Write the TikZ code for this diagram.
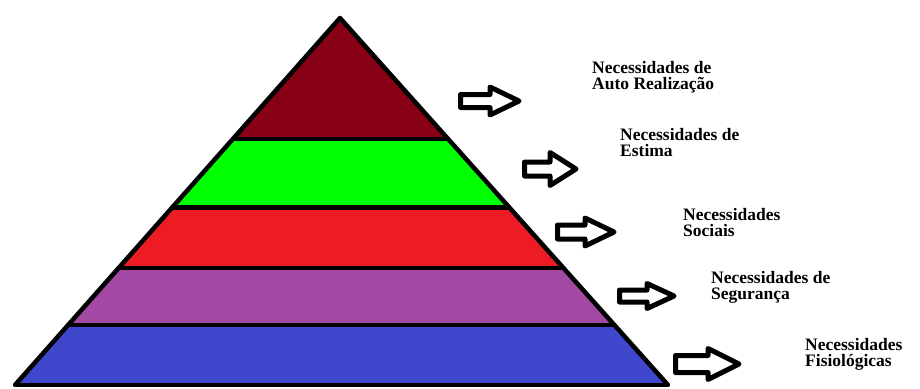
\documentclass[tikz,border=0pt]{standalone}
\usepackage{fontspec}
\setmainfont{Liberation Serif}
\usetikzlibrary{calc}
\definecolor{lvA}{RGB}{136,0,21}
\definecolor{lvB}{RGB}{0,255,0}
\definecolor{lvC}{RGB}{237,28,36}
\definecolor{lvD}{RGB}{163,73,164}
\definecolor{lvE}{RGB}{63,72,204}
\newcommand{\blockarr}[6]{% x0, xm, x1, cy, shaft half, head half
  \draw[arrowline] (#1,#4-#5) -- (#2,#4-#5) -- (#2,#4-#6) -- (#3,#4) -- (#2,#4+#6) -- (#2,#4+#5) -- (#1,#4+#5) -- cycle;}
\newcommand{\lblfont}{\fontsize{17.5}{16}\selectfont\bfseries\lineskiplimit=-30pt\relax\lineskip=0pt\relax}
\tikzset{
  bandline/.style={line width=4.2pt, line cap=round},
  edgeline/.style={line width=4.5pt, line join=round},
  arrowline/.style={line width=5pt, line join=round, fill=white},
  lbl/.style={anchor=base west, align=left, inner sep=0pt, font=\lblfont}
}
\begin{document}
\begin{tikzpicture}[x=1pt,y=-1pt]
\useasboundingbox (0,0) rectangle (920,388);
\coordinate (apex) at (340,18);
\coordinate (bl) at (15,385);
\coordinate (br) at (668,385);
\coordinate (l1) at ($(apex)!0.3288!(bl)$);
\coordinate (r1) at ($(apex)!0.3288!(br)$);
\coordinate (l2) at ($(apex)!0.5163!(bl)$);
\coordinate (r2) at ($(apex)!0.5163!(br)$);
\coordinate (l3) at ($(apex)!0.6821!(bl)$);
\coordinate (r3) at ($(apex)!0.6821!(br)$);
\coordinate (l4) at ($(apex)!0.8370!(bl)$);
\coordinate (r4) at ($(apex)!0.8370!(br)$);
% bands
\fill[lvA] (apex) -- (r1) -- (l1) -- cycle;
\fill[lvB] (l1) -- (r1) -- (r2) -- (l2) -- cycle;
\fill[lvC] (l2) -- (r2) -- (r3) -- (l3) -- cycle;
\fill[lvD] (l3) -- (r3) -- (r4) -- (l4) -- cycle;
\fill[lvE] (l4) -- (r4) -- (br) -- (bl) -- cycle;
\draw[bandline] (l1) -- (r1);
\draw[bandline] (l2) -- (r2);
\draw[bandline] (l3) -- (r3);
\draw[bandline] (l4) -- (r4);
\draw[edgeline] (bl) -- (apex) -- (br);
\draw[bandline] (bl) -- (br);
% arrows
\blockarr{460.5}{490}{519}{101}{6.5}{14}
\blockarr{524.5}{550}{576}{169}{7}{16.5}
\blockarr{557.5}{585}{614}{232}{7}{14}
\blockarr{619.5}{647}{674}{296}{6}{12.5}
\blockarr{675.5}{708}{739}{364}{8.5}{15.5}
% labels
\node[lbl] (t1) at (592,89.5) {Necessidades de\\Auto Realização};
\node[lbl] (t2) at (620,156.5) {Necessidades de\\Estima};
\node[lbl] (t3) at (683,236.5) {Necessidades\\Sociais};
\node[lbl] (t4) at (711,299) {Necessidades de\\Segurança};
\node[lbl] (t5) at (805,366.5) {Necessidades\\Fisiológicas};
\end{tikzpicture}
\end{document}
